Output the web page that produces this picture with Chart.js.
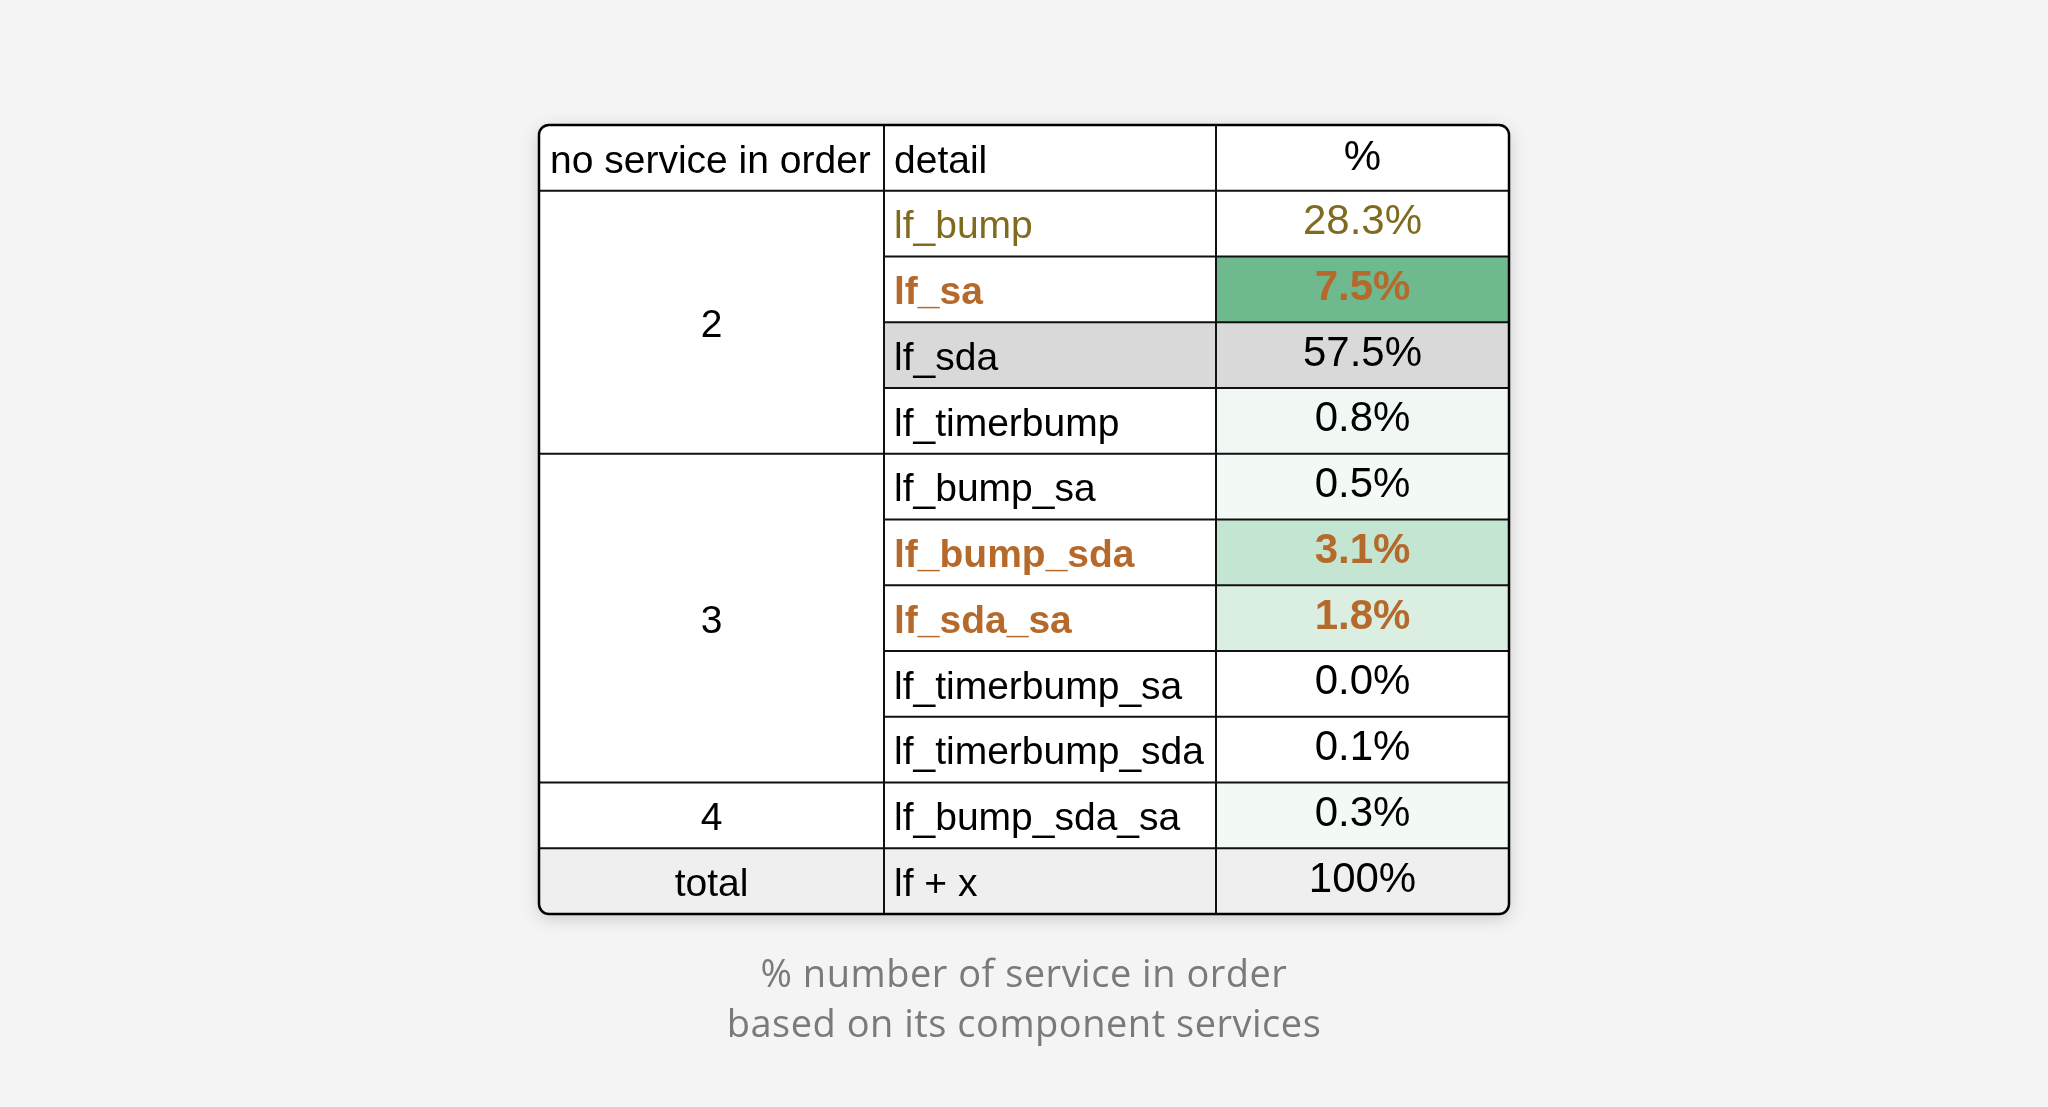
<!DOCTYPE html>
<html>
<head>
<meta charset="utf-8">
<script src="https://cdn.jsdelivr.net/npm/chart.js@4"></script>
<style>
  html, body { margin: 0; padding: 0; background: #f4f4f4; }
  #wrap { position: relative; width: 2048px; height: 1107px; }
  #caption {
    position: absolute; left: 0; top: 947px; width: 2048px; text-align: center;
    font-family: "Open Sans", sans-serif; font-size: 38px; line-height: 50px; color: #7a7a7a;
    letter-spacing: 0.5px;
  }
</style>
</head>
<body>
<div id="wrap">
  <canvas id="chart" width="2048" height="1107"></canvas>
  <div id="caption">% number of service in order<br>based on its component services</div>
</div>
<script>
// table data
const headers = ["no service in order", "detail", "%"];
const groups = ["2", "3", "4", "total"];
const groupSpans = [4, 5, 1, 1];
const details = ["lf_bump", "lf_sa", "lf_sda", "lf_timerbump", "lf_bump_sa", "lf_bump_sda",
                 "lf_sda_sa", "lf_timerbump_sa", "lf_timerbump_sda", "lf_bump_sda_sa", "lf + x"];
const percents = ["28.3%", "7.5%", "57.5%", "0.8%", "0.5%", "3.1%", "1.8%", "0.0%", "0.1%", "0.3%", "100%"];

// styling per row
const colWidths = [345, 332, 293];
const pctBg = ["#ffffff", "#6fb98e", "#d9d9d9", "#f1f8f4", "#f3f9f5", "#c3e5d1", "#dbeee2",
               "#ffffff", "#fdfefd", "#f3f9f5", "#efefef"];
const rowBg = [null, null, "#d9d9d9", null, null, null, null, null, null, null, "#efefef"];
const textColor = ["#7f6a1e", "#b5692a", "#000", "#000", "#000", "#b5692a", "#b5692a", "#000", "#000", "#000", "#000"];
const textBold = [false, true, false, false, false, true, true, false, false, false, false];

const colEdges = colWidths.reduce((a, w) => { a.push(a[a.length - 1] + w); return a; }, [0]);
const nRows = details.length + 1;

const tablePlugin = {
    id: "tablePlugin",
    afterDraw(chart) {
        const { ctx, scales: { x, y } } = chart;
        const px = v => x.getPixelForValue(v);
        const py = v => y.getPixelForValue(v);
        const L = px(0), R = px(colEdges[3]), T = py(0), B = py(nRows);

        ctx.save();
        // card with shadow
        ctx.shadowColor = "rgba(0,0,0,0.18)";
        ctx.shadowBlur = 18;
        ctx.shadowOffsetY = 4;
        ctx.fillStyle = "#fff";
        ctx.beginPath();
        ctx.roundRect(L, T, R - L, B - T, 10);
        ctx.fill();
        ctx.shadowColor = "transparent";

        ctx.save();
        ctx.beginPath();
        ctx.roundRect(L, T, R - L, B - T, 10);
        ctx.clip();

        // backgrounds
        details.forEach((d, i) => {
            const r = i + 1;
            if (rowBg[i]) {
                ctx.fillStyle = rowBg[i];
                const from = i === details.length - 1 ? 0 : 1;
                ctx.fillRect(px(colEdges[from]), py(r), px(colEdges[2]) - px(colEdges[from]), py(r + 1) - py(r));
            }
            ctx.fillStyle = pctBg[i];
            ctx.fillRect(px(colEdges[2]), py(r), px(colEdges[3]) - px(colEdges[2]), py(r + 1) - py(r));
        });

        // grid lines
        ctx.strokeStyle = "#111";
        ctx.lineWidth = 2;
        ctx.beginPath();
        for (let c = 1; c < 3; c++) { ctx.moveTo(px(colEdges[c]), T); ctx.lineTo(px(colEdges[c]), B); }
        for (let r = 1; r < nRows; r++) { ctx.moveTo(px(colEdges[1]), py(r)); ctx.lineTo(R, py(r)); }
        let acc = 1;
        groupSpans.forEach(s => { ctx.moveTo(L, py(acc)); ctx.lineTo(px(colEdges[1]), py(acc)); acc += s; });
        ctx.stroke();
        ctx.restore();

        ctx.lineWidth = 2.5;
        ctx.beginPath();
        ctx.roundRect(L, T, R - L, B - T, 10);
        ctx.stroke();

        // text
        const fam = '"Liberation Sans", Arial, sans-serif';
        ctx.textBaseline = "middle";
        const mid = r => (py(r) + py(r + 1)) / 2 + 4;
        ctx.fillStyle = "#000";
        ctx.font = `39px ${fam}`;
        ctx.textAlign = "left";
        ctx.fillText(headers[0], px(colEdges[0]) + 11, mid(0));
        ctx.fillText(headers[1], px(colEdges[1]) + 10, mid(0));
        ctx.textAlign = "center";
        ctx.font = `42px ${fam}`;
        ctx.fillText(headers[2], (px(colEdges[2]) + R) / 2, mid(0) - 3);

        ctx.font = `39px ${fam}`;
        acc = 1;
        groups.forEach((g, i) => {
            const yc = (py(acc) + py(acc + groupSpans[i])) / 2 + 4;
            ctx.fillText(g, (L + px(colEdges[1])) / 2, yc);
            acc += groupSpans[i];
        });

        details.forEach((d, i) => {
            const r = i + 1;
            ctx.fillStyle = textColor[i];
            ctx.font = `${textBold[i] ? "bold " : ""}39px ${fam}`;
            ctx.textAlign = "left";
            ctx.fillText(d, px(colEdges[1]) + 10, mid(r));
            ctx.textAlign = "center";
            ctx.font = `${textBold[i] ? "bold " : ""}42px ${fam}`;
            ctx.fillText(percents[i], (px(colEdges[2]) + R) / 2, mid(r) - 5);
        });
        ctx.restore();
    }
};

new Chart(document.getElementById("chart"), {
    type: "scatter",
    data: { datasets: [{ data: [] }] },
    options: {
        responsive: false,
        animation: false,
        layout: { padding: { left: 539, right: 539, top: 125, bottom: 193 } },
        plugins: { legend: { display: false }, tooltip: { enabled: false } },
        scales: {
            x: { type: "linear", min: 0, max: colEdges[3], display: false },
            y: { type: "linear", min: 0, max: nRows, reverse: true, display: false }
        }
    },
    plugins: [tablePlugin]
});
</script>
</body>
</html>
